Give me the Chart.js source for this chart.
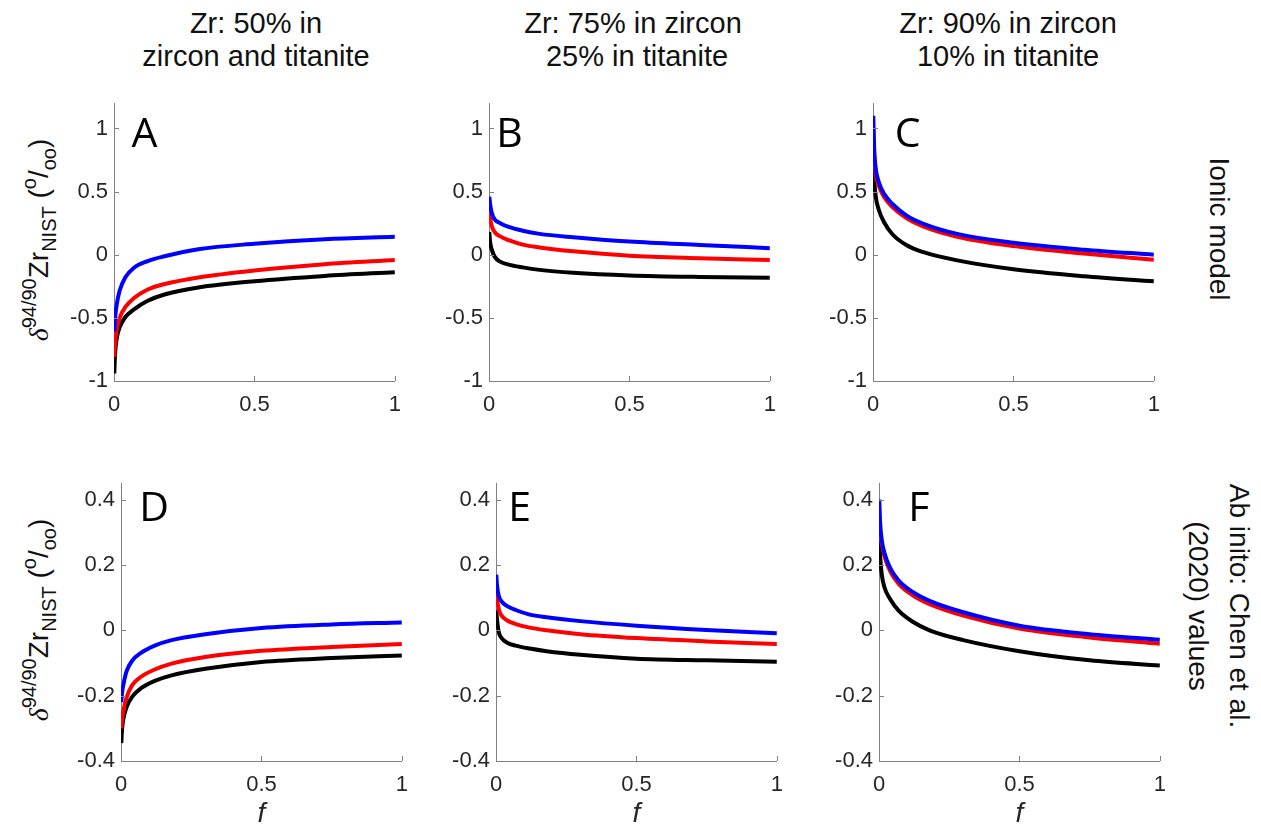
<!DOCTYPE html>
<html>
<head>
<meta charset="utf-8">
<script src="https://cdn.jsdelivr.net/npm/chart.js@4.4.0/dist/chart.umd.min.js"></script>
<style>
    html, body { margin: 0; padding: 0; background: #fff; overflow: hidden; }
    #figure { position: relative; width: 1261px; height: 831px; font-family: "Liberation Sans", Arial, sans-serif; color: #000; }
    .panel { position: absolute; }
    .col-title { position: absolute; width: 400px; top: 6.6px; text-align: center; font-size: 29px; line-height: 33.4px; white-space: pre; color: #111; }
    .ylabel { position: absolute; width: 300px; height: 50px; line-height: 50px; text-align: center; font-size: 28px; white-space: nowrap; transform: rotate(-90deg); color: #111; }
    .ylabel i { font-family: "Liberation Serif", serif; }
    .ylabel sup, .ylabel sub { font-size: 20px; vertical-align: baseline; position: relative; }
    .ylabel sup { top: -12px; }
    .ylabel sub { top: 8px; }
    .rlabel { position: absolute; text-align: center; font-size: 28px; white-space: pre; transform: rotate(90deg); color: #111; }
</style>
</head>
<body>
<div id="figure">
    <div class="col-title" style="left:56px">Zr: 50% in
zircon and titanite</div>
    <div class="col-title" style="left:433px">Zr: 75% in zircon
 25% in titanite</div>
    <div class="col-title" style="left:808px">Zr: 90% in zircon
10% in titanite</div>

    <div class="ylabel" style="left:-110.7px; top:215px"><i>δ</i><sup>94/90</sup>Zr<sub>NIST</sub> (<sup>o</sup>/<sub>oo</sub>)</div>
    <div class="ylabel" style="left:-110.7px; top:595px"><i>δ</i><sup>94/90</sup>Zr<sub>NIST</sub> (<sup>o</sup>/<sub>oo</sub>)</div>

    <div class="rlabel" style="left:1118.7px; top:209px; width:200px; height:40px; line-height:40px">Ionic model</div>
    <div class="rlabel" style="left:1089.2px; top:565px; width:260px; height:82px; line-height:41px">Ab inito: Chen et al.
(2020) values</div>

    <canvas id="panelA" class="panel"></canvas>
    <canvas id="panelB" class="panel"></canvas>
    <canvas id="panelC" class="panel"></canvas>
    <canvas id="panelD" class="panel"></canvas>
    <canvas id="panelE" class="panel"></canvas>
    <canvas id="panelF" class="panel"></canvas>
</div>

<script>
// Fraction of melt remaining (f), shared by every curve
const fValues = [0.001, 0.004, 0.01, 0.02, 0.04, 0.07, 0.12, 0.18, 0.3, 0.5, 0.75, 1];

// Ionic model (top row)
const aBlue  = [-0.61, -0.50, -0.39, -0.285, -0.18, -0.105, -0.05, -0.012, 0.044, 0.087, 0.123, 0.143];
const aRed   = [-0.81, -0.69, -0.59, -0.50, -0.415, -0.345, -0.275, -0.232, -0.18, -0.125, -0.075, -0.042];
const aBlack = [-0.94, -0.78, -0.66, -0.575, -0.495, -0.435, -0.365, -0.315, -0.26, -0.21, -0.168, -0.138];

const bBlue  = [0.46, 0.40, 0.33, 0.28, 0.25, 0.22, 0.19, 0.165, 0.138, 0.104, 0.077, 0.052];
const bRed   = [0.355, 0.29, 0.225, 0.18, 0.145, 0.115, 0.08, 0.058, 0.027, -0.008, -0.028, -0.042];
const bBlack = [0.18, 0.10, 0.04, -0.015, -0.055, -0.078, -0.10, -0.12, -0.143, -0.164, -0.176, -0.182];

const cBlue  = [1.10, 0.85, 0.68, 0.58, 0.48, 0.40, 0.31, 0.245, 0.165, 0.095, 0.04, 0.0];
const cRed   = [1.00, 0.79, 0.64, 0.55, 0.455, 0.375, 0.288, 0.222, 0.142, 0.068, 0.01, -0.04];
const cBlack = [0.86, 0.62, 0.46, 0.36, 0.255, 0.16, 0.075, 0.02, -0.045, -0.115, -0.17, -0.21];

// Ab initio, Chen et al. (2020) values (bottom row)
const dBlue  = [-0.22, -0.19, -0.16, -0.125, -0.093, -0.07, -0.047, -0.03, -0.012, 0.007, 0.018, 0.024];
const dRed   = [-0.30, -0.27, -0.24, -0.205, -0.168, -0.143, -0.12, -0.102, -0.082, -0.063, -0.051, -0.042];
const dBlack = [-0.345, -0.30, -0.265, -0.235, -0.203, -0.178, -0.155, -0.138, -0.118, -0.097, -0.085, -0.077];

const eBlue  = [0.17, 0.135, 0.105, 0.088, 0.074, 0.062, 0.048, 0.04, 0.028, 0.014, 0.001, -0.009];
const eRed   = [0.127, 0.095, 0.064, 0.045, 0.03, 0.019, 0.008, 0.0, -0.012, -0.024, -0.034, -0.042];
const eBlack = [0.061, 0.03, -0.006, -0.024, -0.038, -0.047, -0.056, -0.064, -0.075, -0.087, -0.092, -0.096];

const fBlue  = [0.40, 0.33, 0.275, 0.235, 0.19, 0.152, 0.117, 0.09, 0.055, 0.014, -0.012, -0.029];
const fRed   = [0.34, 0.30, 0.265, 0.225, 0.18, 0.142, 0.107, 0.08, 0.045, 0.005, -0.022, -0.041];
const fBlack = [0.305, 0.23, 0.17, 0.13, 0.095, 0.06, 0.026, 0.0, -0.03, -0.064, -0.092, -0.108];

// Axis ranges per row
const topRange = { min: -1, max: 1.2, step: 0.5 };
const bottomRange = { min: -0.4, max: 0.45, step: 0.2 };

const AXIS_COLOR = '#808080';
const TEXT_COLOR = '#262626';
const PLOT_W = 283, PLOT_H = 282;
const Y_AXIS_W = 70, PAD_TOP = 15, PAD_RIGHT = 15;

const panels = [
    { letter: 'A', blue: aBlue, red: aRed, black: aBlack, range: topRange,    left: 114, top: 99,  letterDx: 17.5, letterDy: 43.6, xTitle: false },
    { letter: 'B', blue: bBlue, red: bRed, black: bBlack, range: topRange,    left: 489, top: 99,  letterDx: 7.3,  letterDy: 43.6, xTitle: false },
    { letter: 'C', blue: cBlue, red: cRed, black: cBlack, range: topRange,    left: 873, top: 99,  letterDx: 21.7, letterDy: 43.6, xTitle: false },
    { letter: 'D', blue: dBlue, red: dRed, black: dBlack, range: bottomRange, left: 121, top: 479, letterDx: 18.3, letterDy: 37.4, xTitle: true },
    { letter: 'E', blue: eBlue, red: eRed, black: eBlack, range: bottomRange, left: 496, top: 479, letterDx: 12.3, letterDy: 37.4, xTitle: true },
    { letter: 'F', blue: fBlue, red: fRed, black: fBlack, range: bottomRange, left: 879, top: 479, letterDx: 29.3, letterDy: 37.4, xTitle: true }
];

// Small inward tick marks, MATLAB style
const innerTicks = {
    id: 'innerTicks',
    afterDraw(chart) {
        const { ctx, chartArea, scales } = chart;
        ctx.save();
        ctx.strokeStyle = AXIS_COLOR;
        ctx.lineWidth = 1;
        ctx.beginPath();
        scales.y.ticks.forEach(t => {
            const y = Math.round(scales.y.getPixelForValue(t.value)) + 0.5;
            ctx.moveTo(chartArea.left, y);
            ctx.lineTo(chartArea.left + 5, y);
        });
        scales.x.ticks.forEach(t => {
            const x = Math.round(scales.x.getPixelForValue(t.value)) + 0.5;
            ctx.moveTo(x, chartArea.bottom);
            ctx.lineTo(x, chartArea.bottom - 5);
        });
        ctx.stroke();
        ctx.restore();
    }
};

// Big panel letter in the upper left corner
const panelLetter = {
    id: 'panelLetter',
    afterDraw(chart, args, opts) {
        const { ctx, chartArea } = chart;
        ctx.save();
        ctx.font = '41px "Open Sans"';
        ctx.fillStyle = '#000';
        ctx.textBaseline = 'alphabetic';
        ctx.fillText(opts.text, chartArea.left + opts.dx, chartArea.top + opts.dy);
        ctx.restore();
    }
};

function toPoints(values) {
    return values.map((v, i) => ({ x: fValues[i], y: v }));
}

function formatTick(value) {
    return String(Math.round(value * 100) / 100);
}

function makePanel(panel) {
    const xAxisH = panel.xTitle ? 70 : 40;
    const canvas = document.getElementById('panel' + panel.letter);
    canvas.width = Y_AXIS_W + PLOT_W + PAD_RIGHT;
    canvas.height = PAD_TOP + PLOT_H + xAxisH;
    canvas.style.left = (panel.left - Y_AXIS_W) + 'px';
    canvas.style.top = (panel.top - PAD_TOP) + 'px';

    const line = (data, color) => ({
        data: toPoints(data),
        borderColor: color,
        backgroundColor: color,
        borderWidth: 4,
        pointRadius: 0,
        fill: false,
        cubicInterpolationMode: 'monotone'
    });

    return new Chart(canvas.getContext('2d'), {
        type: 'line',
        data: {
            // first dataset is drawn on top
            datasets: [line(panel.blue, '#0000ff'), line(panel.red, '#ff0000'), line(panel.black, '#000000')]
        },
        options: {
            responsive: false,
            animation: false,
            devicePixelRatio: 1,
            layout: { padding: { top: PAD_TOP, right: PAD_RIGHT, left: 0, bottom: 0 } },
            plugins: {
                legend: { display: false },
                tooltip: { enabled: false },
                panelLetter: { text: panel.letter, dx: panel.letterDx, dy: panel.letterDy }
            },
            scales: {
                x: {
                    type: 'linear',
                    min: 0,
                    max: 1,
                    grid: { display: false, drawTicks: false },
                    border: { display: true, color: AXIS_COLOR, width: 1 },
                    ticks: {
                        stepSize: 0.5,
                        padding: 11,
                        color: TEXT_COLOR,
                        font: { family: '"Liberation Sans", Arial, sans-serif', size: 22 },
                        maxRotation: 0,
                        callback: formatTick
                    },
                    title: {
                        display: panel.xTitle,
                        text: 'f',
                        color: TEXT_COLOR,
                        padding: { top: 0, bottom: 0 },
                        font: { family: '"Liberation Sans", Arial, sans-serif', size: 28, style: 'italic' }
                    },
                    afterFit: scale => { scale.height = xAxisH; }
                },
                y: {
                    type: 'linear',
                    min: panel.range.min,
                    max: panel.range.max,
                    grid: { display: false, drawTicks: false },
                    border: { display: true, color: AXIS_COLOR, width: 1 },
                    ticks: {
                        stepSize: panel.range.step,
                        includeBounds: false,
                        padding: 6,
                        color: TEXT_COLOR,
                        font: { family: '"Liberation Sans", Arial, sans-serif', size: 22 },
                        callback: formatTick
                    },
                    afterFit: scale => { scale.width = Y_AXIS_W; }
                }
            }
        },
        plugins: [innerTicks, panelLetter]
    });
}

panels.forEach(makePanel);
</script>
</body>
</html>
